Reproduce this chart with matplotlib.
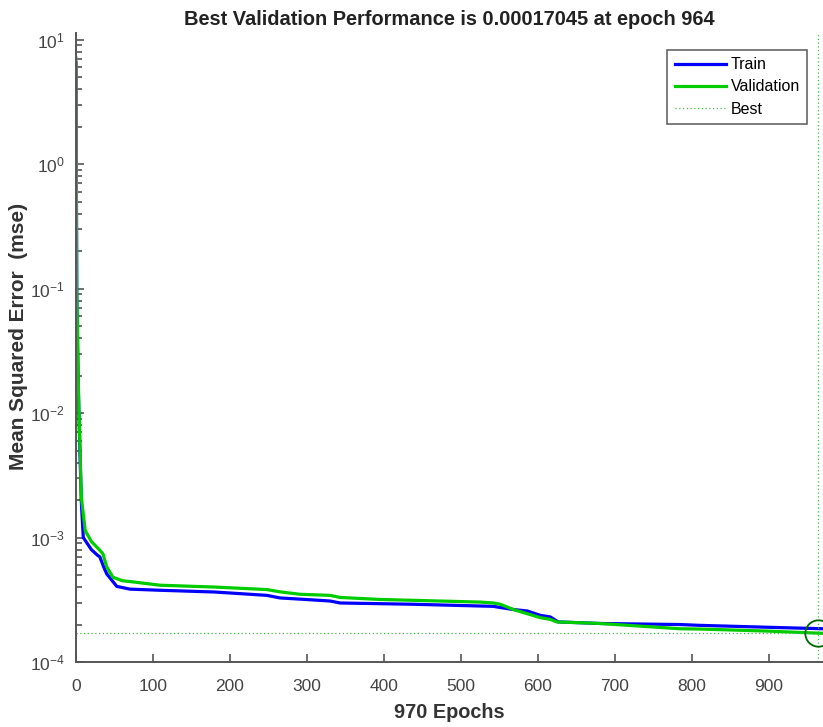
import matplotlib
matplotlib.use("Agg")
import matplotlib.pyplot as plt

plt.rcParams['font.family'] = ['Liberation Sans', 'DejaVu Sans']
plt.rcParams['mathtext.default'] = 'regular'
plt.rcParams['axes.unicode_minus'] = False

# values (epoch, mse)
train_epochs = [0, 1, 3, 4, 7, 9.5, 20, 28, 31, 36, 40, 53, 70, 109, 180, 248, 265, 291, 330, 343,
                438, 542, 551, 568, 586, 603, 616, 626, 680, 784, 810, 900, 970]
train_mse = [6.5, 0.09, 0.016, 0.009, 1.9e-3, 1.0e-3, 8.0e-4, 7.2e-4, 7.0e-4, 5.8e-4, 5.1e-4, 4.05e-4,
             3.85e-4, 3.77e-4, 3.65e-4, 3.43e-4, 3.27e-4, 3.2e-4, 3.09e-4, 2.98e-4, 2.91e-4, 2.8e-4,
             2.74e-4, 2.64e-4, 2.57e-4, 2.37e-4, 2.3e-4, 2.1e-4, 2.04e-4, 2.0e-4, 1.97e-4, 1.9e-4, 1.85e-4]

val_epochs = [0, 1, 3, 4, 7, 12, 14, 20, 31, 35, 40, 48, 60, 74, 109, 180, 248, 265, 291, 330, 343,
              395, 525, 542, 551, 568, 603, 616, 624, 680, 784, 810, 900, 964, 970]
val_mse = [7.1, 0.1, 0.018, 0.01, 2.1e-3, 1.14e-3, 1.08e-3, 9.3e-4, 7.9e-4, 7.4e-4, 5.8e-4, 4.8e-4,
           4.5e-4, 4.4e-4, 4.14e-4, 4.0e-4, 3.82e-4, 3.66e-4, 3.5e-4, 3.43e-4, 3.3e-4, 3.18e-4,
           3.03e-4, 2.98e-4, 2.91e-4, 2.64e-4, 2.27e-4, 2.2e-4, 2.1e-4, 2.04e-4, 1.85e-4, 1.84e-4,
           1.77e-4, 1.7045e-4, 1.70e-4]

best_epoch = 964
best_perf = 0.00017045
n_epochs = 970

fig = plt.figure(figsize=(8.23, 7.27), dpi=100)
ax = fig.add_axes([0.0923, 0.0894, 0.9077, 0.8652])

ax.plot(train_epochs, train_mse, color='#0000ff', lw=2.3, label='Train')
ax.plot(val_epochs, val_mse, color='#00cc00', lw=2.3, label='Validation')
ax.axhline(best_perf, color='#44bb44', lw=0.9, ls=(0, (1, 2)), label='Best')
ax.axvline(best_epoch, color='#44bb44', lw=0.9, ls=(0, (1, 2)))
ax.plot([best_epoch], [best_perf], 'o', mfc='none', mec='#006600', ms=19, mew=1.3)

ax.set_yscale('log')
ax.set_xlim(0, n_epochs)
ax.set_ylim(1e-4, 11.3)
ax.set_xticks(range(0, 1000, 100))

for side in ['top', 'right']:
    ax.spines[side].set_visible(False)
for side in ['left', 'bottom']:
    ax.spines[side].set_color('#555555')
    ax.spines[side].set_linewidth(1.4)

ax.tick_params(which='both', direction='in', colors='#555555', labelcolor='#444444',
               labelsize=12.5, width=1.2)
ax.tick_params(which='major', length=6)
ax.tick_params(which='minor', length=4)
ax.tick_params(axis='x', pad=12)
ax.tick_params(axis='y', pad=8)

ax.set_title('Best Validation Performance is 0.00017045 at epoch 964',
             fontsize=14.4, fontweight='bold', color='#222222', pad=6)
ax.set_xlabel('970 Epochs', fontsize=14.3, fontweight='bold', color='#333333', labelpad=7)
ax.set_ylabel('Mean Squared Error  (mse)', fontsize=15, fontweight='bold', color='#333333')
ax.yaxis.set_label_coords(-0.064, 0.518)

leg = ax.legend(loc='upper right', bbox_to_anchor=(807 / 823, 1 - 50 / 727),
                bbox_transform=fig.transFigure, borderaxespad=0, fancybox=False,
                edgecolor='#666666', fontsize=11.5, handlelength=3.2, handletextpad=0.3,
                borderpad=0.45, labelspacing=0.45, framealpha=1)
leg.get_frame().set_linewidth(1.2)

fig.savefig('out.png', dpi=100)
